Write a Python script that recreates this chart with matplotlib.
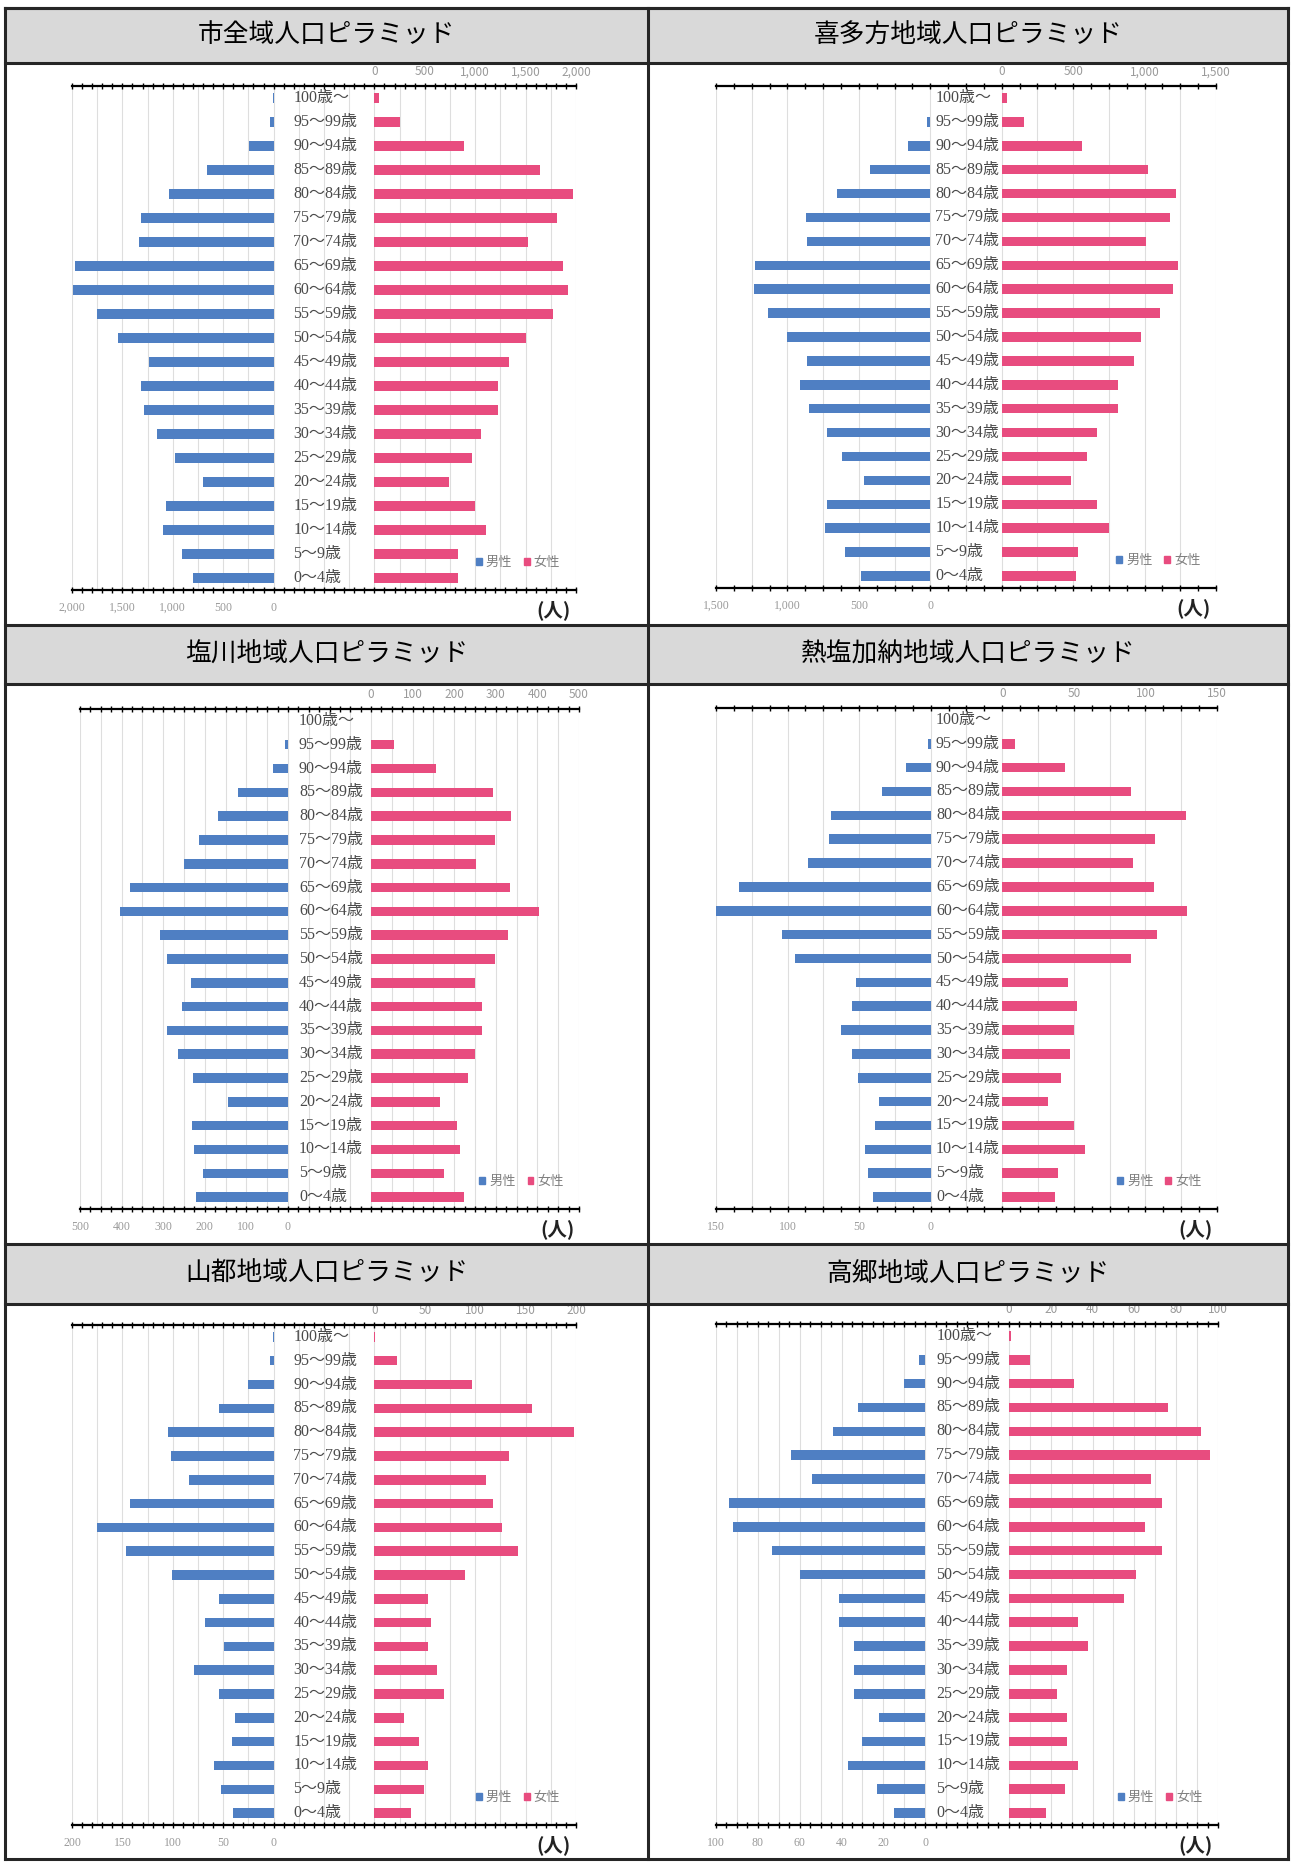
import numpy as np
import matplotlib
matplotlib.use("Agg")
import matplotlib.pyplot as plt
from matplotlib.patches import Rectangle, Patch
from matplotlib.lines import Line2D
from matplotlib.ticker import MultipleLocator, FuncFormatter

plt.rcParams['font.family'] = ['Noto Sans CJK JP', 'DejaVu Sans']

# age groups, youngest first (bottom of each pyramid)
ages = ['0～4歳', '5～9歳', '10～14歳', '15～19歳', '20～24歳', '25～29歳',
        '30～34歳', '35～39歳', '40～44歳', '45～49歳', '50～54歳', '55～59歳',
        '60～64歳', '65～69歳', '70～74歳', '75～79歳', '80～84歳', '85～89歳',
        '90～94歳', '95～99歳', '100歳～']

titles = ['市全域人口ピラミッド', '喜多方地域人口ピラミッド', '塩川地域人口ピラミッド',
          '熱塩加納地域人口ピラミッド', '山都地域人口ピラミッド', '高郷地域人口ピラミッド']

city_male = [796, 907, 1101, 1064, 705, 977, 1155, 1282, 1320, 1237, 1542,
             1753, 1988, 1967, 1332, 1315, 1039, 664, 243, 33, 2]
city_female = [832, 832, 1110, 998, 741, 965, 1056, 1222, 1226, 1333, 1503,
               1768, 1925, 1867, 1528, 1814, 1967, 1644, 890, 253, 46]

kitakata_male = [486, 594, 734, 722, 466, 617, 722, 850, 909, 862, 1005,
                 1136, 1235, 1226, 862, 871, 655, 422, 157, 20, 0]
kitakata_female = [519, 537, 752, 665, 482, 595, 670, 813, 815, 926, 972,
                   1111, 1201, 1233, 1010, 1178, 1219, 1027, 560, 157, 38]

shiokawa_male = [220, 204, 226, 231, 144, 228, 264, 291, 255, 234, 290,
                 307, 404, 379, 251, 214, 169, 119, 35, 7, 0]
shiokawa_female = [223, 175, 214, 206, 166, 234, 251, 267, 267, 249, 299,
                   329, 403, 335, 252, 299, 337, 292, 157, 55, 0]

atsushiokano_male = [40, 44, 46, 39, 36, 51, 55, 63, 55, 52, 95,
                     104, 150, 134, 86, 71, 70, 34, 17, 2, 0]
atsushiokano_female = [37, 39, 58, 50, 32, 41, 47, 50, 52, 46, 90,
                       108, 129, 106, 91, 107, 128, 90, 44, 9, 0]

yamato_male = [40, 52, 59, 41, 38, 54, 79, 49, 68, 54, 101,
               146, 175, 142, 84, 102, 105, 54, 25, 4, 1]
yamato_female = [36, 49, 53, 44, 29, 69, 62, 53, 56, 53, 90,
                 142, 127, 118, 111, 134, 198, 156, 97, 22, 1]

takasato_male = [15, 23, 37, 30, 22, 34, 34, 34, 41, 41, 60,
                 73, 92, 94, 54, 64, 44, 32, 10, 3, 0]
takasato_female = [18, 27, 33, 28, 28, 23, 28, 38, 33, 55, 61,
                   73, 65, 73, 68, 96, 92, 76, 31, 10, 1]

males = [city_male, kitakata_male, shiokawa_male, atsushiokano_male, yamato_male, takasato_male]
females = [city_female, kitakata_female, shiokawa_female, atsushiokano_female, yamato_female, takasato_female]

# axis range (max shown, hidden negative side), label step, tick step, grid step
scales = [(2000, 3000, 500, 100, 250),
          (1500, 2000, 500, 125, 250),
          (500, 700, 100, 25, 50),
          (150, 200, 50, 12.5, 25),
          (200, 300, 50, 10, 25),
          (100, 140, 20, 5, 10)]

W, H = 1292, 1863
BLUE = '#4f7fc3'
PINK = '#e84c7f'
SERIF = ['Liberation Serif', 'Noto Sans CJK JP']

fig = plt.figure(figsize=(W / 100, H / 100), dpi=100)

# table geometry in pixels
X0, XM, X1 = 5, 648, 1288
Y0, Y1 = 8, 1859
head_rows = [(8, 63), (625, 684), (1244, 1304)]
plot_rects = [(72, 86, 576, 590), (716, 86, 1216, 588),
              (80, 709, 579, 1209), (716, 708, 1217, 1209),
              (72, 1325, 576, 1825), (716, 1324, 1218, 1825)]


def fx(x):
    return x / W


def fy(y):
    return 1 - y / H


for top, bot in head_rows:
    fig.add_artist(Rectangle((fx(X0), fy(bot)), fx(X1) - fx(X0), (bot - top) / H,
                             transform=fig.transFigure, facecolor='#d9d9d9',
                             edgecolor='none', zorder=0))

for i, t in enumerate(titles):
    top, bot = head_rows[i // 2]
    cx = (X0 + XM) / 2 if i % 2 == 0 else (XM + X1) / 2
    fig.text(fx(cx), fy((top + bot) / 2), t, ha='center', va='center',
             fontsize=18.5, color='black')


def label_fmt(limit):
    def f(v, pos):
        if v < -1e-6 or v > limit + 1e-6:
            return ''
        return '{:,.0f}'.format(v)
    return f


def draw_pyramid(rect, male, female, scale):
    vmax, vneg, major, minor, grid = scale
    l, t, r, b = rect
    pos = [fx(l), fy(b), (r - l) / W, (b - t) / H]
    axf = fig.add_axes(pos)
    axm = fig.add_axes(pos)
    axf.set_facecolor('white')
    axm.patch.set_alpha(0)
    y = np.arange(len(ages))

    axf.set_xlim(-vneg, vmax)
    axm.set_xlim(vmax, -vneg)
    for a in (axf, axm):
        a.set_ylim(-0.5, len(ages) - 0.5)
        a.set_yticks([])
        for s in a.spines.values():
            s.set_visible(False)
        a.xaxis.set_major_locator(MultipleLocator(major))
        a.xaxis.set_minor_locator(MultipleLocator(minor))
        a.xaxis.set_major_formatter(FuncFormatter(label_fmt(vmax)))
        a.tick_params(which='both', direction='inout', length=5, width=1,
                      color='black', labelsize=8.5, labelcolor='#9a9a9a')
        for lab in a.get_xticklabels():
            lab.set_family(SERIF)

    for g in np.arange(-vneg, vmax + grid / 2, grid):
        axf.axvline(g, color='#dedede', lw=0.8, zorder=0)

    axf.barh(y, female, height=0.4, color=PINK, zorder=2)
    axm.barh(y, male, height=0.4, color=BLUE, zorder=2)

    axf.spines['top'].set_visible(True)
    axf.spines['top'].set_linewidth(1.6)
    axf.xaxis.set_ticks_position('top')
    axf.tick_params(pad=3)
    axm.spines['bottom'].set_visible(True)
    axm.spines['bottom'].set_linewidth(1.6)
    axm.xaxis.set_ticks_position('bottom')
    axm.tick_params(pad=6)

    # age labels sit in the gap between the two zero lines
    mid = -(vneg - vmax) / 2
    for i, a_lab in enumerate(ages):
        axf.annotate(a_lab, xy=(mid, i), xytext=(-22, 0), textcoords='offset points',
                     ha='left', va='center', fontsize=11.5, color='#4a4a4a',
                     family=SERIF, zorder=3)

    handles = [Patch(color=BLUE), Patch(color=PINK)]
    axm.legend(handles, ['男性', '女性'], loc='center', bbox_to_anchor=(0.885, 0.055),
               ncol=2, frameon=False, fontsize=9.5, handlelength=0.45, handleheight=0.45,
               handletextpad=0.3, columnspacing=0.9, labelcolor='#808080')

    fig.text(fx(r - 22), fy(b + 20), '(人)', ha='center', va='center',
             fontsize=14, fontweight='bold', color='#222222')


for k in range(6):
    draw_pyramid(plot_rects[k], males[k], females[k], scales[k])

# table borders
lw = 2.2
lc = '#262626'
border = [((X0, Y0), (X1, Y0)), ((X0, Y1), (X1, Y1)), ((X0, Y0), (X0, Y1)),
          ((X1, Y0), (X1, Y1)), ((XM, Y0), (XM, Y1))]
for top, bot in head_rows:
    border.append(((X0, top), (X1, top)))
    border.append(((X0, bot), (X1, bot)))
for (xa, ya), (xb, yb) in border:
    fig.add_artist(Line2D([fx(xa), fx(xb)], [fy(ya), fy(yb)], transform=fig.transFigure,
                          color=lc, lw=lw, zorder=10))

fig.savefig('out.png', dpi=100)
